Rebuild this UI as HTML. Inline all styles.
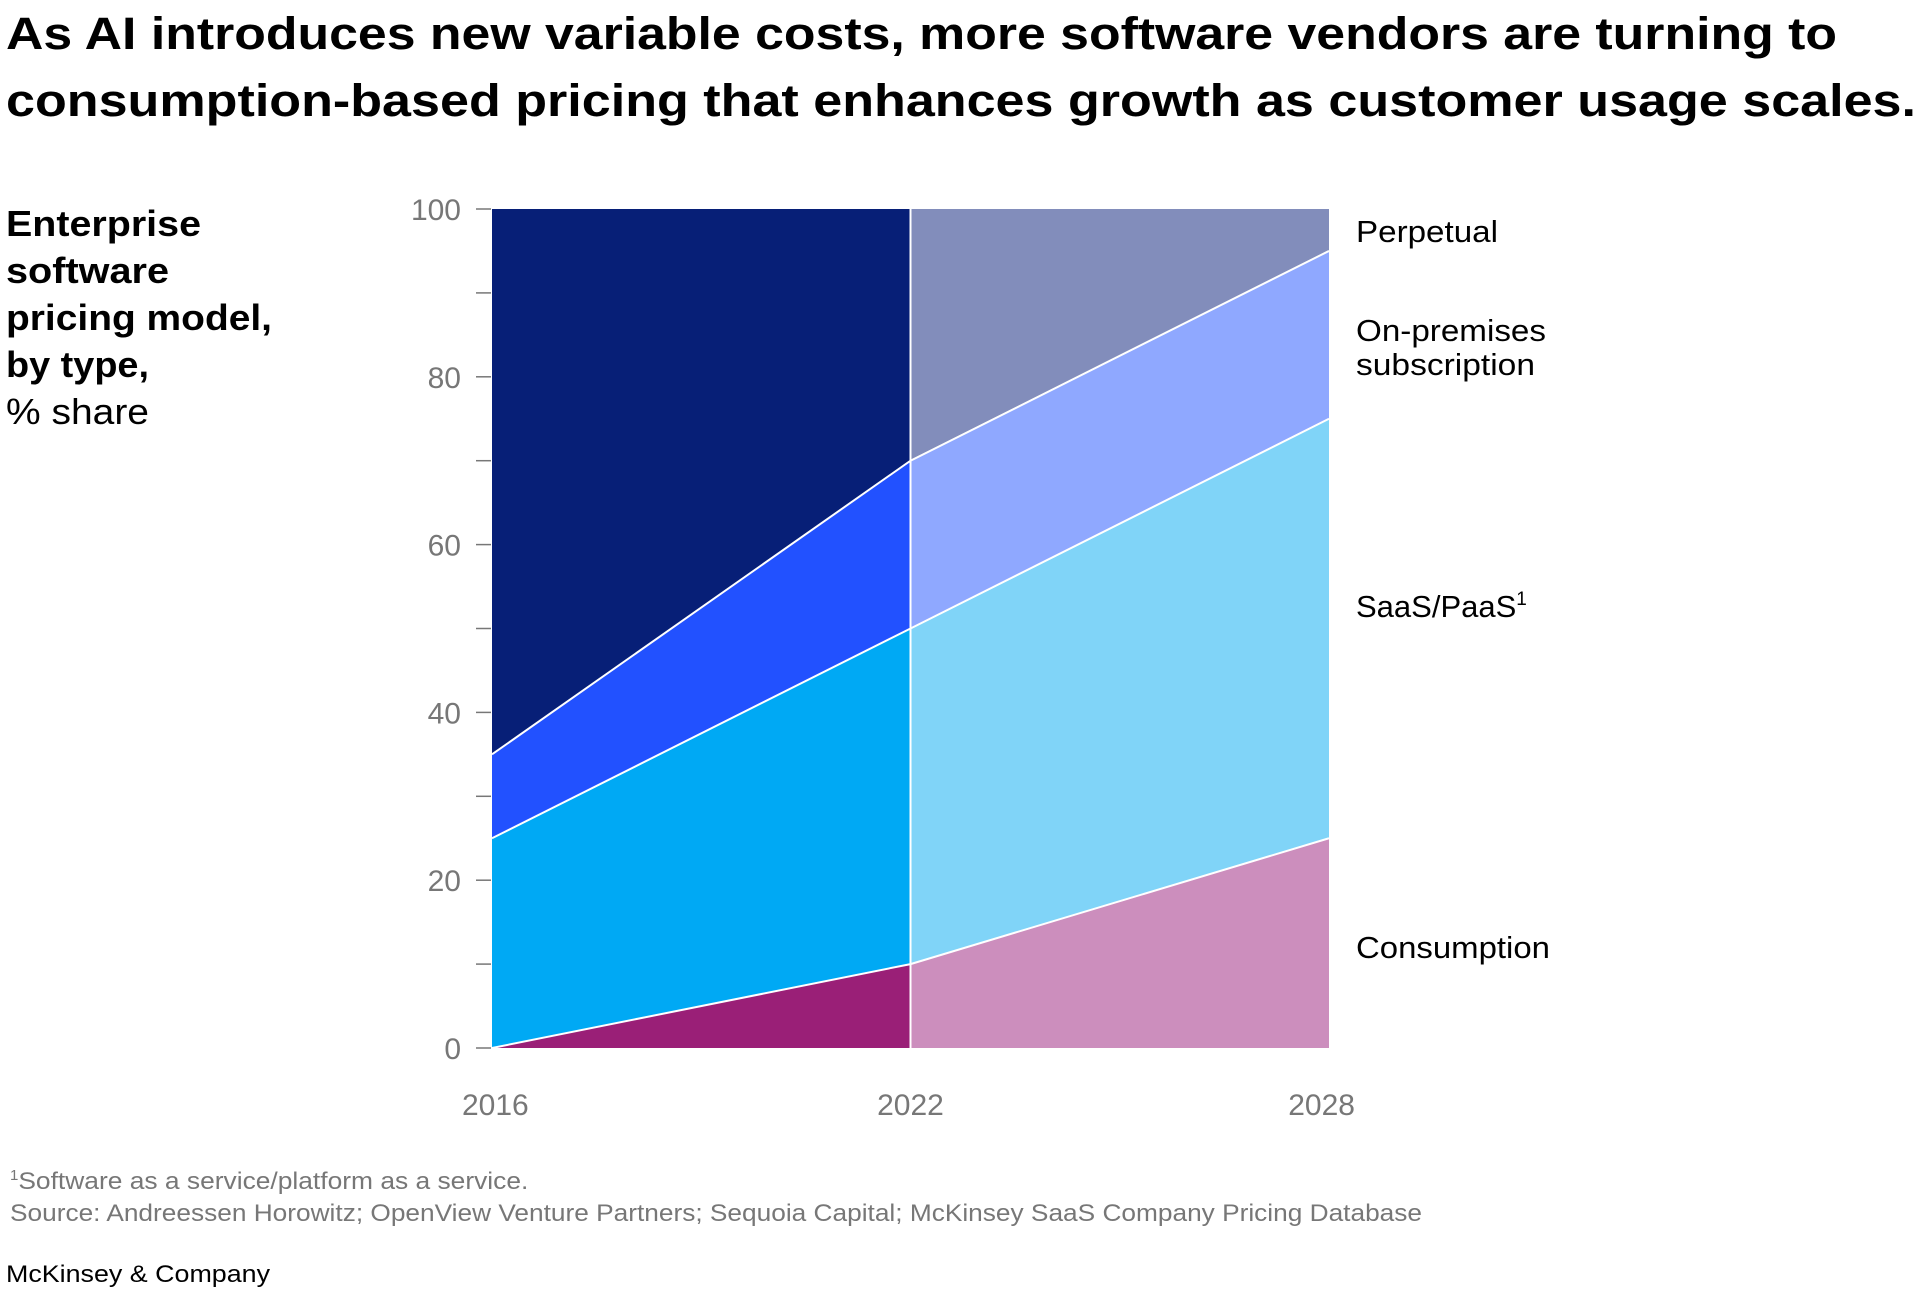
<!DOCTYPE html>
<html><head><meta charset="utf-8"><style>
body{margin:0;background:#fff;width:1920px;height:1311px;overflow:hidden;font-family:"Liberation Sans",sans-serif}
svg{display:block}
</style></head><body>
<svg width="1920" height="1311" id="chart">
<text x="6" y="49" font-size="45" font-weight="bold" fill="#000" textLength="1831" lengthAdjust="spacingAndGlyphs">As AI introduces new variable costs, more software vendors are turning to</text>
<text x="6" y="116" font-size="45" font-weight="bold" fill="#000" textLength="1910" lengthAdjust="spacingAndGlyphs">consumption-based pricing that enhances growth as customer usage scales.</text>
<g font-size="36" fill="#000">
<text x="6" y="236" font-weight="bold" textLength="195" lengthAdjust="spacingAndGlyphs">Enterprise</text>
<text x="6" y="283" font-weight="bold" textLength="163" lengthAdjust="spacingAndGlyphs">software</text>
<text x="6" y="330" font-weight="bold" textLength="266" lengthAdjust="spacingAndGlyphs">pricing model,</text>
<text x="6" y="377" font-weight="bold" textLength="143" lengthAdjust="spacingAndGlyphs">by type,</text>
<text x="6" y="424" textLength="143" lengthAdjust="spacingAndGlyphs">% share</text>
</g>
<g id="areas"></g>
<g id="axes"></g>
<g font-size="31" fill="#000">
<text x="1356" y="242" textLength="142" lengthAdjust="spacingAndGlyphs">Perpetual</text>
<text x="1356" y="341" textLength="190" lengthAdjust="spacingAndGlyphs">On-premises</text>
<text x="1356" y="375" textLength="179" lengthAdjust="spacingAndGlyphs">subscription</text>
<text x="1356" y="617">SaaS/PaaS<tspan font-size="19" dy="-12">1</tspan></text>
<text x="1356" y="958" textLength="194" lengthAdjust="spacingAndGlyphs">Consumption</text>
</g>
<text x="10" y="1189" font-size="24" fill="#777"><tspan font-size="15" dy="-9">1</tspan><tspan dy="9" textLength="510" lengthAdjust="spacingAndGlyphs">Software as a service/platform as a service.</tspan></text>
<text x="10" y="1221" font-size="24" fill="#777" textLength="1412" lengthAdjust="spacingAndGlyphs">Source: Andreessen Horowitz; OpenView Venture Partners; Sequoia Capital; McKinsey SaaS Company Pricing Database</text>
<text x="6" y="1282" font-size="24" fill="#000" textLength="264" lengthAdjust="spacingAndGlyphs">McKinsey &amp; Company</text>
</svg>
<script>
const years = ["2016","2022","2028"];
const consumption = [0,10,25];
const saas = [25,40,50];
const onPrem = [10,20,20];
const perpetual = [65,30,5];
const yTicks = [0,20,40,60,80,100];
const seriesNames = ["consumption","saas-paas","on-premises-subscription","perpetual"];
const darkColors = ["#9a1f77","#00a9f4","#2251ff","#071f77"];
const lightColors = ["#cc8ebd","#80d4f8","#8fa8ff","#828dbb"];

const NS="http://www.w3.org/2000/svg";
const X0=492,X1=1329,Y0=1048,Y1=209;
const xs=i=>X0+(X1-X0)*i/(years.length-1);
const ys=v=>Y0-(Y0-Y1)*v/100;
const series=[consumption,saas,onPrem,perpetual];
const cum=[];let base=years.map(()=>0);
series.forEach(s=>{const top=base.map((b,i)=>b+s[i]);cum.push([base,top]);base=top;});
const areas=document.getElementById('areas');
for(let seg=0;seg<years.length-1;seg++){
  cum.forEach(([lo,hi],k)=>{
    const p=document.createElementNS(NS,'polygon');
    const a=seg,b=seg+1;
    p.setAttribute('points',`${xs(a)},${ys(lo[a])} ${xs(b)},${ys(lo[b])} ${xs(b)},${ys(hi[b])} ${xs(a)},${ys(hi[a])}`);
    p.setAttribute('fill',seg===0?darkColors[k]:lightColors[k]);
    
    
    areas.appendChild(p);
  });
}
cum.forEach(([lo,hi],k)=>{
  if(k===cum.length-1)return;
  const l=document.createElementNS(NS,'polyline');
  l.setAttribute('points',years.map((y,i)=>`${xs(i)},${ys(hi[i])}`).join(' '));
  l.setAttribute('fill','none');l.setAttribute('stroke','#fff');l.setAttribute('stroke-width','2');
  
  
  areas.appendChild(l);
});
const vl=document.createElementNS(NS,'line');
vl.setAttribute('x1',xs(1));vl.setAttribute('x2',xs(1));vl.setAttribute('y1',Y1);vl.setAttribute('y2',Y0);
vl.setAttribute('stroke','#fff');vl.setAttribute('stroke-width','2');


areas.appendChild(vl);
const axes=document.getElementById('axes');
for(let v=0;v<=100;v+=10){
  const t=document.createElementNS(NS,'line');
  t.setAttribute('x1',476);t.setAttribute('x2',491);t.setAttribute('y1',ys(v));t.setAttribute('y2',ys(v));
  t.setAttribute('stroke','#777');t.setAttribute('stroke-width','1.5');
  
  
  axes.appendChild(t);
}
yTicks.forEach(v=>{
  const t=document.createElementNS(NS,'text');
  t.setAttribute('x',461);t.setAttribute('y',ys(v)+11);t.setAttribute('text-anchor','end');
  t.setAttribute('font-size','30');t.setAttribute('fill','#777');
  t.textContent=v;
  
  
  axes.appendChild(t);
});
years.forEach((y,i)=>{
  const t=document.createElementNS(NS,'text');
  const anchor=i===0?'start':(i===years.length-1?'end':'middle');
  t.setAttribute('x',i===0?xs(i)-30:(i===years.length-1?xs(i)+26:xs(i)));
  t.setAttribute('y',1115);t.setAttribute('text-anchor',anchor);
  t.setAttribute('font-size','30');t.setAttribute('fill','#777');
  t.textContent=y;
  
  
  axes.appendChild(t);
});
</script>
</body></html>
